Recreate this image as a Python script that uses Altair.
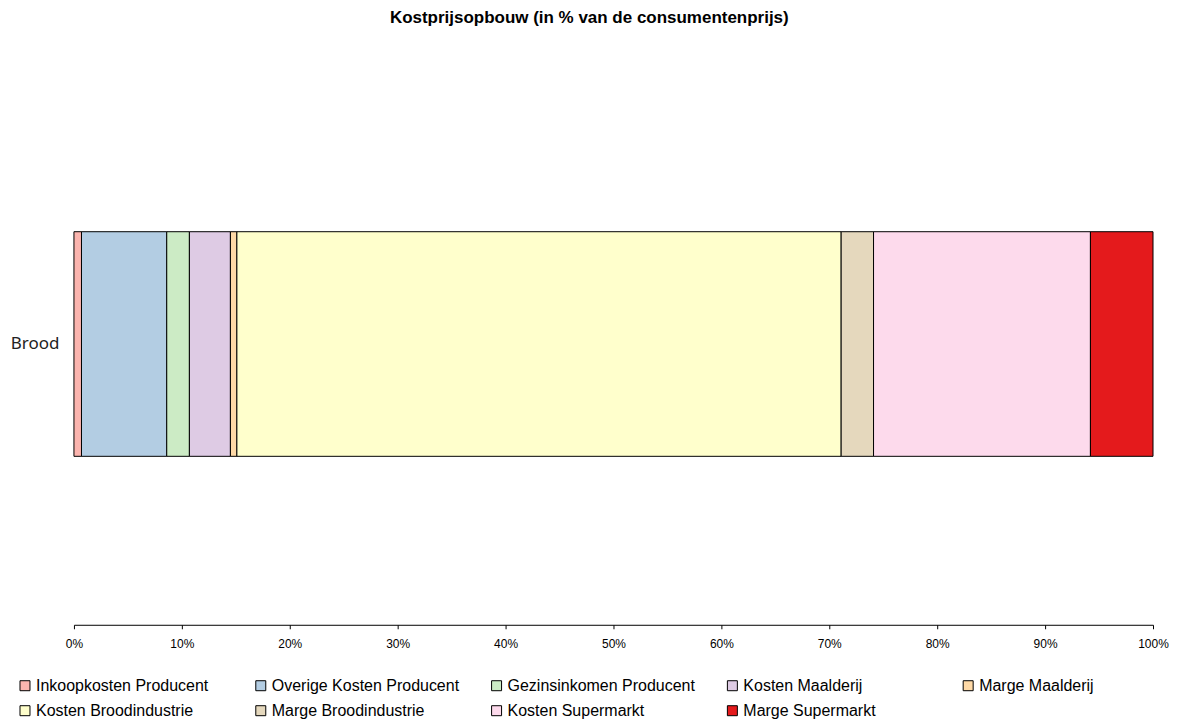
import altair as alt
import pandas as pd

# Kostprijsopbouw brood, in % van de consumentenprijs
categories = [
    "Inkoopkosten Producent",
    "Overige Kosten Producent",
    "Gezinsinkomen Producent",
    "Kosten Maalderij",
    "Marge Maalderij",
    "Kosten Broodindustrie",
    "Marge Broodindustrie",
    "Kosten Supermarkt",
    "Marge Supermarkt",
]
values = [0.7, 7.9, 2.1, 3.8, 0.6, 56.0, 3.0, 20.1, 5.8]
colors = ["#FBB4AE", "#B3CDE3", "#CCEBC5", "#DECBE4", "#FED9A6",
          "#FFFFCC", "#E5D8BD", "#FDDAEC", "#E41A1C"]
tick_values = [0, 10, 20, 30, 40, 50, 60, 70, 80, 90, 100]

df = pd.DataFrame({
    "Product": "Brood",
    "Onderdeel": categories,
    "Aandeel": values,
    "Volgorde": list(range(len(categories))),
})

chart = alt.Chart(df).mark_bar(stroke="black", strokeWidth=1).encode(
    x=alt.X("Aandeel:Q", stack="zero", title=None,
            scale=alt.Scale(domain=[0, 100], nice=False),
            axis=alt.Axis(values=tick_values, labelExpr="datum.value + '%'",
                          grid=False, domainColor="black", tickColor="black",
                          tickSize=4, labelFont="Liberation Sans", labelFontSize=12,
                          labelColor="black", labelPadding=10, labelFlush=False)),
    y=alt.Y("Product:N", title=None,
            scale=alt.Scale(paddingInner=0.6, paddingOuter=0.3),
            axis=alt.Axis(domain=False, ticks=False, labelFont="Noto Sans",
                          labelFontSize=17, labelColor="#222222", labelPadding=15)),
    color=alt.Color("Onderdeel:N",
                    scale=alt.Scale(domain=categories, range=colors),
                    legend=alt.Legend(title=None, orient="none", legendX=-57, legendY=615,
                                      direction="horizontal", columns=5, gridAlign="all",
                                      columnPadding=29, rowPadding=9, symbolType="square",
                                      symbolSize=100, symbolStrokeColor="black",
                                      symbolStrokeWidth=1, labelFont="Liberation Sans",
                                      labelFontSize=16, labelColor="black", labelOffset=3,
                                      labelLimit=300)),
    order=alt.Order("Volgorde:Q"),
).properties(
    width=1080,
    height=562,
    padding={"left": 2, "top": 1, "right": 0, "bottom": 0},
    title=alt.TitleParams("Kostprijsopbouw (in % van de consumentenprijs)",
                          font="Liberation Sans", fontSize=17, fontWeight="bold",
                          color="black", offset=36, frame="bounds"),
).configure_view(stroke=None)

chart.save("out.html", embed_options={"renderer": "svg", "actions": False})
